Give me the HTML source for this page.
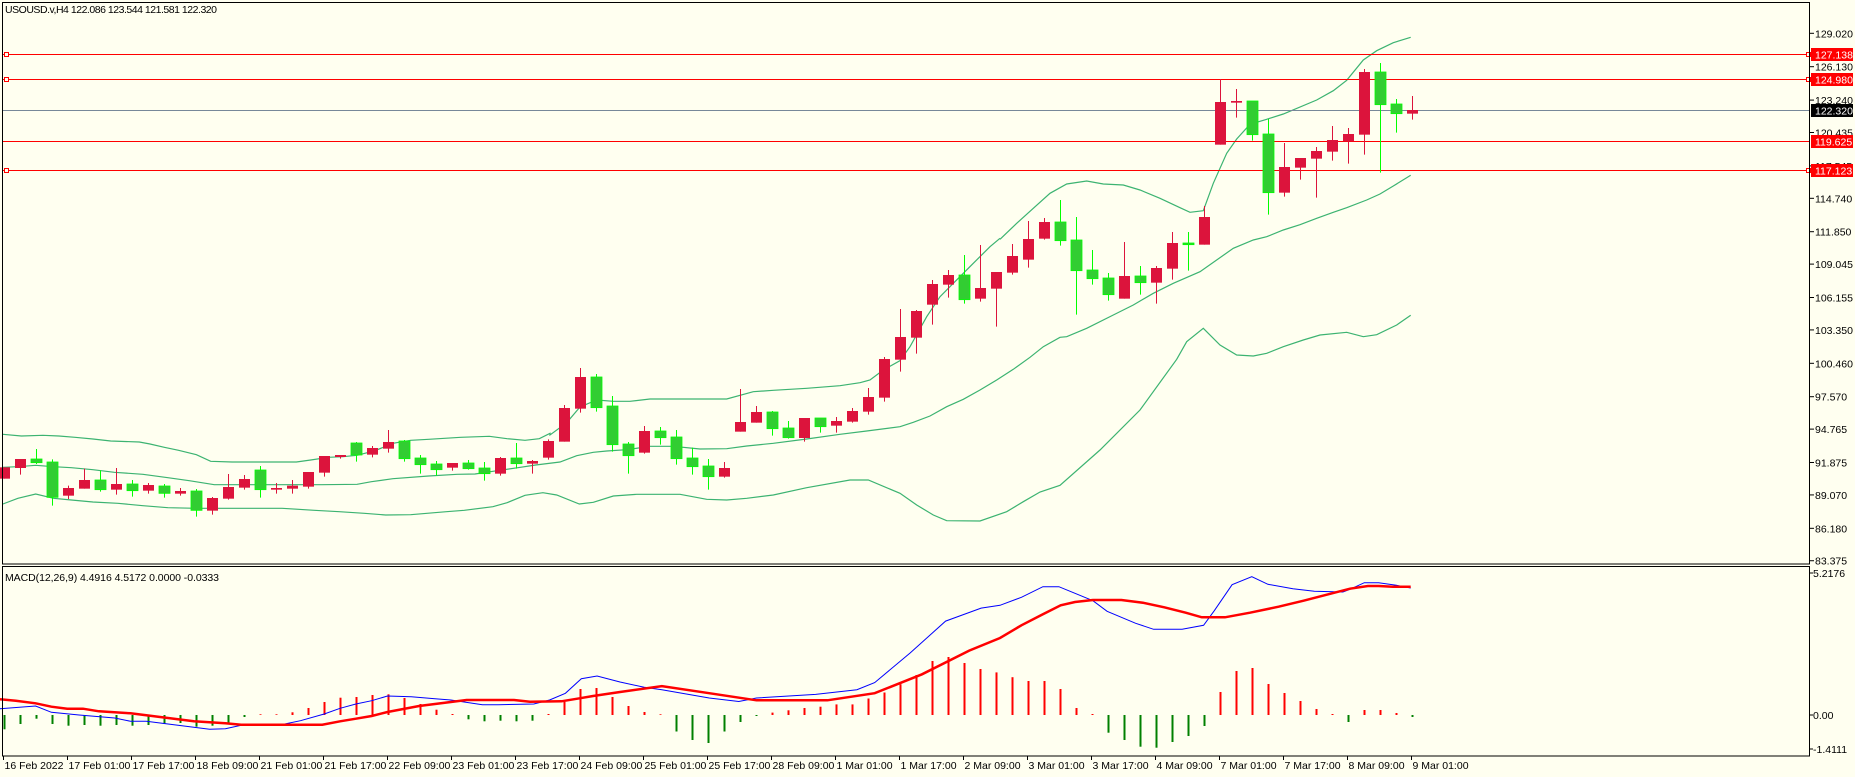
<!DOCTYPE html>
<html><head><meta charset="utf-8">
<style>
html,body{margin:0;padding:0;background:#FFFFF0;}
svg{display:block;font-family:"Liberation Sans",sans-serif;}
</style></head>
<body>
<svg id="s" width="1855" height="777" xmlns="http://www.w3.org/2000/svg">
<rect width="1855" height="777" fill="#FFFFF0"/>
<g id="bands"></g>
<g id="lines">
<line x1="2" y1="110.5" x2="1810" y2="110.5" stroke="#778899" stroke-width="1"/>
<line x1="2" y1="54.5" x2="1810" y2="54.5" stroke="#FF0000" stroke-width="1"/>
<line x1="2" y1="79.5" x2="1810" y2="79.5" stroke="#FF0000" stroke-width="1"/>
<line x1="2" y1="141.5" x2="1810" y2="141.5" stroke="#FF0000" stroke-width="1"/>
<line x1="2" y1="170.5" x2="1810" y2="170.5" stroke="#FF0000" stroke-width="1"/>
<rect x="4.5" y="52.5" width="4" height="4" fill="#FFFFF0" stroke="#FF0000"/>
<rect x="4.5" y="77.5" width="4" height="4" fill="#FFFFF0" stroke="#FF0000"/>
<rect x="4.5" y="168.5" width="4" height="4" fill="#FFFFF0" stroke="#FF0000"/>
<rect x="1806.5" y="52.5" width="4" height="4" fill="#FFFFF0" stroke="#FF0000"/>
<rect x="1806.5" y="77.5" width="4" height="4" fill="#FFFFF0" stroke="#FF0000"/>
<rect x="1806.5" y="168.5" width="4" height="4" fill="#FFFFF0" stroke="#FF0000"/>
</g>
<g id="candles"></g>
<g id="macd"></g>
<g fill="none" stroke="#000" stroke-width="1">
<rect x="2.5" y="2.5" width="1807" height="561.5"/>
<rect x="2.5" y="566.5" width="1807" height="189.5"/>
</g>
<g font-size="10.5" fill="#000">
<text x="5" y="13" textLength="212">USOUSD.v,H4  122.086 123.544 121.581 122.320</text>
<text x="5" y="581" textLength="214">MACD(12,26,9) 4.4916 4.5172 0.0000 -0.0333</text>
</g>
<g id="yaxis" font-size="10.5" fill="#000"></g>
<g id="xaxis" font-size="10.5" fill="#000"></g>
<g font-size="10.5">
<rect x="1811" y="48" width="42" height="13" fill="#FF0000"/><text x="1815" y="58.5" fill="#fff">127.138</text>
<rect x="1811" y="73" width="42" height="13" fill="#FF0000"/><text x="1815" y="83.5" fill="#fff">124.980</text>
<rect x="1811" y="104" width="42" height="13" fill="#000"/><text x="1815" y="114.5" fill="#fff">122.320</text>
<rect x="1811" y="135" width="42" height="13" fill="#FF0000"/><text x="1815" y="145.5" fill="#fff">119.625</text>
<rect x="1811" y="164" width="42" height="13" fill="#FF0000"/><text x="1815" y="174.5" fill="#fff">117.123</text>
</g>
</svg>
<script>
var NS="http://www.w3.org/2000/svg";
function el(p,t,a){var e=document.createElementNS(NS,t);for(var k in a)e.setAttribute(k,a[k]);p.appendChild(e);return e;}
function X(i){return 4+16*i;}
var A=[['r',412,446,412,446],['r',387,414,387,434],['g',387,398,357,402],['g',396,502,388,527],['r',474,497,467,507],['r',450,476,416,476],['g',450,479,421,485],['r',462,479,414,494],['g',462,482,450,500],['r',465,482,459,491],['g',468,490,462,503],['r',483,491,474,497],['g',483,541,477,560],['r',504,542,501,554],['r',471,506,432,509],['r',447,473,435,479],['g',420,479,408,503],['r',474,479,459,491],['r',467,476,450,491],['r',426,470,426,476],['r',378,428,378,440],['r',375,381,375,386],['g',339,375,336,395],['r',354,374,348,382],['r',336,356,300,368],['g',333,386,330,395],['g',384,404,375,431],['g',402,419,393,437],['r',399,413,399,422],['g',399,416,390,419],['g',414,431,396,452],['r',384,431,381,437],['g',384,401,339,416],['r',393,401,390,431]];
var B=[['r',723,773,718,779],['r',624,725,615,725],['r',531,626,504,638],['g',531,623,522,635],['g',618,734,588,755],['g',732,767,726,821],['r',693,758,678,761],['g',693,713,681,734],['g',711,776,690,794],['g',774,800,743,824],['g',798,830,777,869],['r',804,830,786,833],['r',666,695,567,695],['r',636,668,618,668],['g',636,686,633,707],['g',684,713,663,716],['r',654,714,654,725],['g',654,680,654,698],['r',663,677,651,698],['r',633,665,624,668],['r',591,635,564,644],['r',477,593,471,605],['r',411,479,327,515],['r',333,413,330,461],['r',252,314,240,374],['r',225,254,210,293],['g',225,299,165,311],['r',264,296,135,305],['r',216,266,216,380],['r',168,218,132,224],['r',117,179,63,203],['r',66,116,54,119]];
var C=[['g',606,662,540,677],['g',660,752,591,884],['g',750,776,690,794],['g',774,824,759,842],['r',768,836,666,836],['g',768,788,738,824],['r',744,788,738,851],['r',669,746,636,779],['g',669,674,636,752],['r',591,674,558,674],['r',246,374,177,374],['r',243,248,207,293],['g',243,344,243,362],['g',342,518,297,584],['r',441,518,369,530],['r',414,443,414,479],['r',393,416,381,533],['r',360,395,318,422],['r',342,364,324,431],['r',156,344,147,404],['g',156,254,129,458],['g',252,281,237,338],['r',270,281,228,299]];
var cg=document.getElementById('candles');
function draw(list,start,y0){list.forEach(function(c,k){var i=start+k,x=X(i);
 var f=function(v){return y0+v/3;};
 var bt=f(c[1]),bb=f(c[2]),wt=f(c[3]),wb=f(c[4]);
 var col=c[0]=='g'?'#32CD32':'#DC143C',wc=c[0]=='g'?'#00FF00':'#DC143C';
 el(cg,'line',{x1:x+0.5,x2:x+0.5,y1:wt,y2:wb,stroke:wc,'stroke-width':1});
 var h=Math.max(bb-bt,1.5);
 el(cg,'rect',{x:x-5,y:bt,width:11,height:h,fill:col,stroke:c[0]=='g'?'#00FF00':'none','stroke-width':c[0]=='g'?0.8:0});
});}
draw(A,0,330);draw(B,34,200);draw(C,66,20);
function conv(pts,x0,fx,y0,fy){return pts.map(function(p){return [x0+p[0]/fx,y0+p[1]/fy];});}
var U7=conv([[8,313],[60,318],[120,316],[165,318],[210,322],[260,327],[310,333],[390,336],[420,342],[460,352],[500,361],[550,374],[590,394],[650,396],[750,396],[830,396],[870,390],[920,382],[960,380],[1000,376],[1050,362],[1100,340],[1150,331],[1200,328],[1290,322],[1370,319],[1420,326],[1470,331],[1510,326],[1540,310]],0,2.8,330,3);
var M7=conv([[8,412],[50,410],[100,406],[150,410],[200,413],[260,419],[320,427],[400,433],[470,443],[530,452],[600,464],[700,464],[800,464],[900,464],[1000,463],[1040,455],[1100,446],[1200,438],[1280,433],[1330,432],[1380,424],[1450,413],[1500,405]],0,2.8,330,3);
var L7=conv([[8,522],[50,505],[100,492],[150,505],[200,510],[260,516],[330,520],[400,527],[470,533],[550,535],[650,535],[790,535],[880,541],[950,545],[1020,550],[1080,555],[1150,554],[1250,545],[1300,541],[1380,530],[1420,518],[1470,496],[1520,488]],0,2.8,330,3);
var U8=conv([[30,705],[80,668],[120,621],[170,600],[220,604],[270,604],[330,597],[480,597],[560,597],[640,575],[700,571],[800,565],[900,557],[960,548],[990,540],[1030,510],[1080,482],[1110,440],[1160,350],[1200,290],[1240,250],[1300,190],[1350,140],[1380,115]],540,3,200,3);
var M8=conv([[60,786],[110,767],[160,757],[200,753],[260,749],[330,739],[400,739],[480,747],[560,746],[620,738],[700,730],[800,717],[900,703],[980,693],[1080,680],[1120,667],[1170,648],[1220,620],[1270,598],[1320,570],[1370,540],[1420,508],[1470,472],[1510,440],[1560,412]],540,3,200,3);
var L8=conv([[50,885],[118,912],[160,907],[220,888],[290,883],[420,883],[500,898],[560,900],[620,895],[700,885],[800,863],[930,840],[985,840],[1080,880],[1130,915],[1180,945],[1220,962],[1320,963],[1400,935],[1450,905],[1500,876],[1560,856]],540,3,200,3).concat([[1100,450],[1140,410]]);
var U9=conv([[0,658],[50,610],[100,565],[150,520],[200,492],[260,483],[310,492],[370,495],[420,510],[480,535],[540,563],[570,577],[610,572],[640,490],[680,400],[710,357],[750,313],[800,298],[850,282],[950,240],[1000,212],[1040,181],[1090,120],[1130,92],[1180,68],[1232,52]],1000,3,20,3);
var M9=conv([[200,950],[260,925],[340,885],[400,855],[460,820],[520,790],[600,755],[700,685],[760,660],[800,650],[850,630],[900,614],[950,595],[1000,577],[1040,563],[1100,540],[1140,522],[1180,498],[1232,466]],1000,3,20,3);
var L9=conv([[530,1018],[560,965],[610,925],[660,975],[710,1005],[760,1008],[800,1000],[850,980],[910,960],[960,945],[1040,937],[1090,950],[1130,944],[1190,915],[1232,886]],1000,3,20,3);
var bg=document.getElementById('bands');
function pl(g,pts,col,w){el(g,'polyline',{points:pts.map(function(p){return p[0].toFixed(1)+','+p[1].toFixed(1);}).join(' '),fill:'none',stroke:col,'stroke-width':w});}
pl(bg,U7.concat(U8),'#3CB371',1.2);pl(bg,U9,'#3CB371',1.2);
pl(bg,M7.concat(M8,M9),'#3CB371',1.2);
pl(bg,L7.concat(L8,L9),'#3CB371',1.2);
var H=[-14.3,-9,-3.7,-9,-10.7,-10,-10.7,-10,-10.7,-10,-9,-8,-11.7,-10.7,-8,-2,0.7,0.7,2.7,7,13,17.3,18,20,20.7,17,11,5.3,1,-4.3,-6.3,-5.7,-6.3,-5.7,1,13,26,27,18,9,3,0.7,-16.5,-25,-28,-16.5,-7,-1,2.4,4.7,7,8.3,10.6,10.6,16.5,22.5,30.8,40,54,58,52,46,42.6,37.8,34,34,26,7,1,-17.7,-25,-31.7,-32.7,-27,-21,-11,23,44,47,31,22,14,6,1,-7,5,5,2,-2];
var mg=document.getElementById('macd');
H.forEach(function(h,i){var x=X(i)+0.5;
 el(mg,'line',{x1:x,x2:x,y1:715,y2:715-h,stroke:h>=0?'#FF0000':'#008000','stroke-width':2});});
var S5=conv([[0,358],[40,362],[90,370],[130,380],[170,386],[210,386],[250,394],[330,400],[410,412],[490,424],[570,430],[610,434],[815,434],[860,424],[900,416],[940,408],[980,396],[1060,378],[1140,366],[1180,360],[1300,360],[1340,365],[1420,364],[1460,356],[1500,348],[1568,336]],0,2.529,580,3);
var Bl5=conv([[0,386],[90,378],[130,397],[200,405],[290,414],[330,424],[370,424],[410,430],[490,442],[530,448],[570,446],[610,436],[720,432],[760,422],[820,402],[860,385],[900,372],[940,362],[980,348],[1040,350],[1100,356],[1140,360],[1220,374],[1260,374],[1350,372],[1390,360],[1430,340],[1470,296],[1510,288],[1568,306]],0,2.529,580,3);
function pc(pts){return pts.map(function(p){return [p[0]*1.182,p[1]*1.183];});}
var Sm=pc([[560,580],[600,586],[640,592],[700,592],[740,586],[780,570],[820,550]]);
var Bm=pc([[545,581],[560,583],[600,590],[625,593],[640,590],[690,587],[725,583],[740,577],[770,552],[800,525],[830,514]]);
var S2=conv([[0,474],[60,436],[120,403],[170,376],[210,366],[260,360],[340,360],[400,368],[460,382],[520,398],[565,412],[630,412],[700,398],[780,380],[850,362],[930,340],[980,326],[1030,318],[1060,318],[1100,320],[1150,320]],1000,2.8,480,3);
var B2=conv([[0,376],[60,352],[120,320],[165,320],[210,340],[260,362],[300,394],[380,430],[430,448],[510,448],[570,436],[600,392],[650,314],[705,290],[750,313],[820,326],[880,334],[960,336],[980,328],[1020,308],[1060,308],[1110,316],[1150,324]],1000,2.8,480,3);
pl(mg,Bl5.concat(Bm,B2),'#0000FF',1);
pl(mg,S5.concat(Sm,S2),'#FF0000',2.5);
var ya=document.getElementById('yaxis');
var P=['129.020','126.130','123.240','120.435','117.545','114.740','111.850','109.045','106.155','103.350','100.460','97.570','94.765','91.875','89.070','86.180','83.375'];
P.forEach(function(p){var v=parseFloat(p),y=33.3+(129.02-v)*11.555;
 el(ya,'line',{x1:1810,x2:1814,y1:y,y2:y,stroke:'#000'});
 var t=el(ya,'text',{x:1815,y:y+4});t.textContent=p;});
[['5.2176',573],['0.00',715],['-1.4111',749]].forEach(function(a){
 el(ya,'line',{x1:1810,x2:1813,y1:a[1],y2:a[1],stroke:'#000'});
 var t=el(ya,'text',{x:1813,y:a[1]+4});t.textContent=a[0];});
var xa=document.getElementById('xaxis');
var L=['16 Feb 2022','17 Feb 01:00','17 Feb 17:00','18 Feb 09:00','21 Feb 01:00','21 Feb 17:00','22 Feb 09:00','23 Feb 01:00','23 Feb 17:00','24 Feb 09:00','25 Feb 01:00','25 Feb 17:00','28 Feb 09:00','1 Mar 01:00','1 Mar 17:00','2 Mar 09:00','3 Mar 01:00','3 Mar 17:00','4 Mar 09:00','7 Mar 01:00','7 Mar 17:00','8 Mar 09:00','9 Mar 01:00'];
L.forEach(function(s,k){var x=X(4*k)-0.5;
 el(xa,'line',{x1:x,x2:x,y1:756,y2:760,stroke:'#000'});
 var t=el(xa,'text',{x:x+1,y:769});t.textContent=s;});
</script>
</body></html>
